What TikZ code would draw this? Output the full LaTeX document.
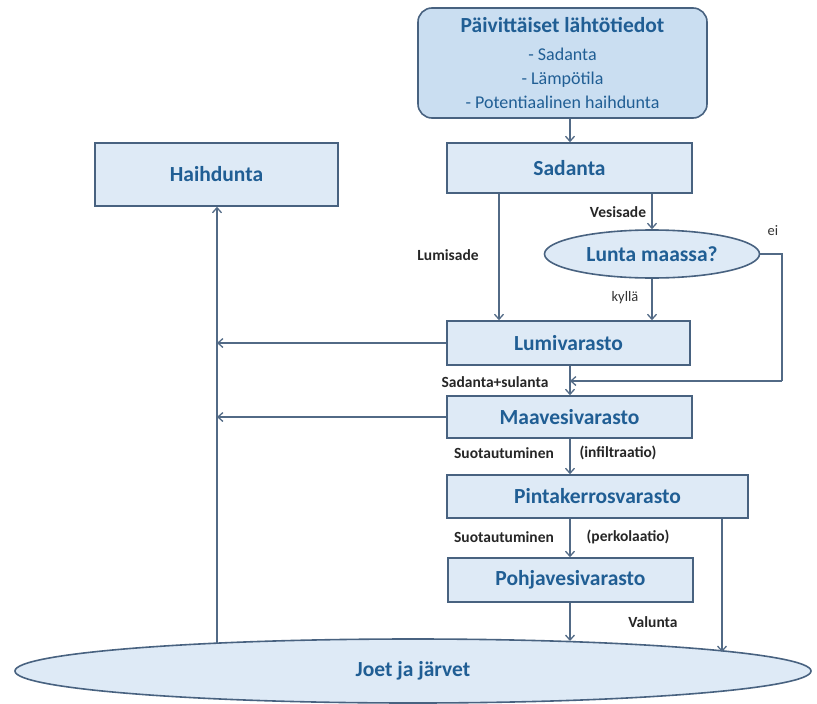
\documentclass[tikz,border=0pt]{standalone}
\usepackage{fontspec}
\setmainfont{Carlito}
\usetikzlibrary{arrows.meta,shapes.geometric}
\definecolor{bordc}{RGB}{72,98,128}
\definecolor{boxfill}{RGB}{222,234,246}
\definecolor{topfill}{RGB}{202,222,241}
\definecolor{titc}{RGB}{32,94,148}
\definecolor{arrc}{RGB}{82,106,134}
\tikzset{
  box/.style={draw=bordc, line width=1.6pt, fill=boxfill, rectangle, inner sep=0pt,
    font=\fontsize{21.5}{24}\selectfont\bfseries, text=titc},
  oval/.style={draw=bordc, line width=1.6pt, fill=boxfill, ellipse, inner sep=0pt,
    font=\fontsize{21.5}{24}\selectfont\bfseries, text=titc},
  arr/.style={draw=arrc, line width=1.5pt, -{Straight Barb[length=5pt,width=9pt,line width=1.3pt]}},
  ln/.style={draw=arrc, line width=1.5pt},
  lab/.style={font=\fontsize{15.5}{18}\selectfont\bfseries, text=black!85, inner sep=0pt},
  labr/.style={font=\fontsize{14.5}{17}\selectfont, text=black!80, inner sep=0pt}
}
\begin{document}
\begin{tikzpicture}[x=1pt,y=-1pt]
\useasboundingbox (0,0) rectangle (817,704);
% nodes
\node[box, fill=topfill, rounded corners=14pt, minimum width=289pt, minimum height=110pt, align=center] (top) at (562.5,63)
  {Päivittäiset lähtötiedot\\[4pt]
   {\fontsize{18}{19.5}\selectfont\mdseries - Sadanta}\\
   {\fontsize{18}{19.5}\selectfont\mdseries - Lämpötila}\\
   {\fontsize{18}{19.5}\selectfont\mdseries - Potentiaalinen haihdunta}};
\node[box, minimum width=245pt, minimum height=50pt] (sad) at (569.5,168) {Sadanta};
\node[box, minimum width=243pt, minimum height=63pt] (haih) at (216.5,174.5) {Haihdunta};
\node[oval, minimum width=215pt, minimum height=48pt] (lunta) at (652,254) {Lunta maassa?};
\node[box, minimum width=243pt, minimum height=44pt] (lumi) at (568.5,343) {Lumivarasto};
\node[box, minimum width=245pt, minimum height=42pt] (maa) at (569.5,417) {Maavesivarasto};
\node[box, minimum width=301pt, minimum height=43pt] (pinta) at (597.5,496.5) {Pintakerrosvarasto};
\node[box, minimum width=245pt, minimum height=44pt] (pohja) at (570.5,580) {Pohjavesivarasto};
\node[oval, minimum width=796pt, minimum height=64pt] (joet) at (413,671) {Joet ja järvet};
% helper coordinates
\coordinate (xm) at (570,0);
\coordinate (xl) at (499,0);
\coordinate (xr) at (722,0);
\coordinate (eiA) at (782,254);
\coordinate (eiB) at (782,381);
\coordinate (join) at (570,381);
\coordinate (jh) at (217,643);
\coordinate (jp) at (570,641);
\coordinate (jr) at (722,652);
% connectors
\draw[arr] (top.south -| xm) -- (sad.north -| xm);
\draw[arr] (sad.south -| xl) -- (lumi.north -| xl);
\draw[arr] (sad.south -| lunta.north) -- (lunta.north);
\draw[arr] (lunta.south) -- (lumi.north -| lunta.south);
\draw[ln] (lunta.east) -- (eiA) -- (eiB);
\draw[arr] (eiB) -- (join);
\draw[arr] (lumi.south -| xm) -- (maa.north -| xm);
\draw[arr] (lumi.west) -- (lumi.west -| jh);
\draw[arr] (maa.west) -- (maa.west -| jh);
\draw[arr] (jh) -- (haih.south -| jh);
\draw[arr] (maa.south -| xm) -- (pinta.north -| xm);
\draw[arr] (pinta.south -| xm) -- (pohja.north -| xm);
\draw[arr] (pohja.south -| xm) -- (jp);
\draw[arr] (pinta.south -| xr) -- (jr);
% labels
\node[lab] (l1) at (448,255) {Lumisade};
\node[lab] (l2) at (618,212) {Vesisade};
\node[labr] (l3) at (625,298) {kyllä};
\node[labr] (l4) at (773,231) {ei};
\node[lab] (l5) at (495,382) {Sadanta+sulanta};
\node[lab] (l6) at (504,453) {Suotautuminen};
\node[lab] (l7) at (618,453) {(infiltraatio)};
\node[lab] (l8) at (504,537) {Suotautuminen};
\node[lab] (l9) at (628,537) {(perkolaatio)};
\node[lab] (l10) at (653,622) {Valunta};
\end{tikzpicture}
\end{document}
